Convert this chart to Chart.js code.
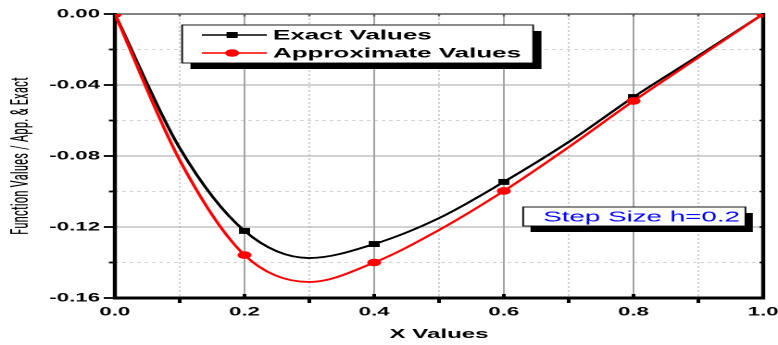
<!DOCTYPE html>
<html><head><meta charset="utf-8">
<script src="https://cdn.jsdelivr.net/npm/chart.js@4/dist/chart.umd.min.js"></script>
<style>html,body{margin:0;padding:0;background:#fff;overflow:hidden}canvas{display:block}</style>
</head><body>
<canvas id="c" width="420" height="345" style="width:778px;height:345px"></canvas>
<script>
// ---- data ----
const xValues      = [0, 0.1, 0.2, 0.3, 0.4, 0.5, 0.6, 0.7, 0.8, 0.9, 1.0];
const exactValues  = [0, -0.0755, -0.1222, -0.1375, -0.1296, -0.1150, -0.0946, -0.0721, -0.0468, -0.0236, 0];
const approxValues = [0, -0.0823, -0.1358, -0.1510, -0.1400, -0.1217, -0.0997, -0.0750, -0.0490, -0.0245, 0];
const markerX      = [0, 0.2, 0.4, 0.6, 0.8, 1.0];
const xTickLabels  = ['0.0', '0.2', '0.4', '0.6', '0.8', '1.0'];
const yTickLabels  = ['0.00', '-0.04', '-0.08', '-0.12', '-0.16'];
const seriesNames  = ['Exact Values', 'Approximate Values'];
const xTitle       = 'X Values';
const yTitle       = 'Function Values / App. & Exact';
const noteText     = 'Step Size h=0.2';

const FAM = '"Liberation Sans", Arial, Helvetica, sans-serif';
const NARROW = '"Roboto Condensed", Roboto, "Liberation Sans", sans-serif';
Chart.defaults.font.family = FAM;
Chart.defaults.color = '#000';

const isMarker = v => markerX.some(m => Math.abs(m - v) < 1e-6);
const pts = arr => xValues.map((x, i) => ({x, y: arr[i]}));
const findLabel = (labels, v) => labels.find(l => Math.abs(parseFloat(l) - v) < 1e-6);

function seg(ctx, x1, y1, x2, y2) { ctx.beginPath(); ctx.moveTo(x1, y1); ctx.lineTo(x2, y2); ctx.stroke(); }

const framePlugin = {
  id: 'frame',
  beforeDatasetsDraw(chart) {
    const {ctx, chartArea: a, scales: {x, y}} = chart;
    ctx.save();
    ctx.strokeStyle = '#c9c9c9'; ctx.lineWidth = 0.8; ctx.setLineDash([2, 2]);
    for (let i = 1; i < 10; i += 2) { const px = x.getPixelForValue(i / 10); seg(ctx, px, a.top, px, a.bottom); }
    for (let j = 1; j < 8; j += 2) { const py = y.getPixelForValue(-j * 0.02); seg(ctx, a.left, py, a.right, py); }
    ctx.setLineDash([]);
    ctx.strokeStyle = '#a4a4a4'; ctx.lineWidth = 1;
    for (let i = 2; i < 10; i += 2) { const px = x.getPixelForValue(i / 10); seg(ctx, px, a.top, px, a.bottom); }
    for (let j = 2; j < 8; j += 2) { const py = y.getPixelForValue(-j * 0.02); seg(ctx, a.left, py, a.right, py); }
    ctx.strokeStyle = '#5a5a5a'; ctx.lineWidth = 1.5;
    seg(ctx, a.left, a.top, a.right, a.top);
    ctx.lineWidth = 1.2;
    for (let i = 1; i < 10; i++) { const px = x.getPixelForValue(i / 10); seg(ctx, px, a.top, px, a.top + 2.5); }
    ctx.strokeStyle = '#000';
    ctx.lineWidth = 2.2; seg(ctx, a.left, a.top - 1, a.left, a.bottom + 1.5);
    ctx.lineWidth = 2.2; seg(ctx, a.right, a.top - 1, a.right, a.bottom + 1.5);
    ctx.lineWidth = 3; seg(ctx, a.left - 1, a.bottom, a.right + 1, a.bottom);
    ctx.lineWidth = 1.8;
    for (let j = 0; j <= 8; j++) {
      const py = y.getPixelForValue(-j * 0.02);
      const len = j % 2 === 0 ? 6 : 3.2;
      seg(ctx, a.left - len, py, a.left, py);
    }
    ctx.lineWidth = 1.5;
    for (let j = 1; j < 8; j++) { const py = y.getPixelForValue(-j * 0.02); seg(ctx, a.right - 2, py, a.right, py); }
    ctx.lineWidth = 2;
    for (let i = 1; i < 10; i++) {
      const px = x.getPixelForValue(i / 10);
      if (i % 2 === 1) seg(ctx, px, a.bottom, px, a.bottom + 5);
      else seg(ctx, px, a.bottom, px, a.bottom - 4);
    }
    ctx.restore();
  },
  afterDraw(chart) {
    const ctx = chart.ctx;
    ctx.save();
    function shadowBox(x, y, w, h, dx, dy) {
      ctx.fillStyle = '#000'; ctx.fillRect(x + dx, y + dy, w, h);
      ctx.fillStyle = '#fff'; ctx.fillRect(x, y, w, h);
      ctx.strokeStyle = '#000'; ctx.lineWidth = 0.9; ctx.strokeRect(x, y, w, h);
    }
    shadowBox(98.3, 25, 189.5, 38, 4.5, 6);
    const rows = [
      {y: 35, color: '#000', style: 'rect'},
      {y: 53, color: '#ff0000', style: 'circle'}
    ];
    rows.forEach((r, i) => {
      ctx.strokeStyle = r.color; ctx.lineWidth = 1.6;
      seg(ctx, 109, r.y, 144, r.y);
      ctx.fillStyle = r.color;
      if (r.style === 'rect') ctx.fillRect(125.3 - 3, r.y - 3, 6, 6);
      else { ctx.beginPath(); ctx.arc(125.3, r.y, 3.8, 0, Math.PI * 2); ctx.fill(); }
      ctx.fillStyle = '#000';
      ctx.font = 'bold 14px ' + FAM;
      ctx.textBaseline = 'middle'; ctx.textAlign = 'left';
      ctx.fillText(seriesNames[i], 147.4, r.y + 0.5);
    });
    shadowBox(282.4, 207, 120, 19, 4, 6);
    ctx.fillStyle = '#0000ff';
    ctx.font = '15px ' + FAM;
    ctx.textBaseline = 'middle'; ctx.textAlign = 'left';
    ctx.fillText(noteText, 293.2, 217.5);
    ctx.restore();
  }
};

new Chart(document.getElementById('c'), {
  type: 'line',
  data: {
    datasets: [
      {
        label: seriesNames[1], data: pts(approxValues), order: 0,
        borderColor: '#ff0000', backgroundColor: '#ff0000', borderWidth: 1.8,
        cubicInterpolationMode: 'monotone', pointStyle: 'circle',
        pointRadius: c => isMarker(c.raw.x) ? 3.8 : 0, pointBorderWidth: 0
      },
      {
        label: seriesNames[0], data: pts(exactValues), order: 1,
        borderColor: '#000', backgroundColor: '#000', borderWidth: 1.8,
        cubicInterpolationMode: 'monotone', pointStyle: 'rect',
        pointRadius: c => isMarker(c.raw.x) ? 4.2 : 0, pointBorderWidth: 0
      }
    ]
  },
  options: {
    responsive: false, animation: false, devicePixelRatio: 2,
    layout: {padding: {top: 14, right: 8, left: 0, bottom: 0}},
    plugins: {legend: {display: false}, tooltip: {enabled: false}},
    scales: {
      x: {
        type: 'linear', min: 0, max: 1,
        grid: {display: false, drawTicks: false, tickLength: 0}, border: {display: false},
        ticks: {stepSize: 0.1, autoSkip: false, maxRotation: 0, padding: 7, color: '#000',
          font: {family: FAM, size: 12, weight: 'bold'},
          callback: v => findLabel(xTickLabels, v) || ''},
        title: {display: true, text: xTitle, color: '#000', font: {family: FAM, size: 13, weight: 'bold'}, padding: {top: 0, bottom: 3}},
        afterFit(s) { s.height = 47; s.paddingLeft = 0; s.paddingRight = 0; }
      },
      y: {
        type: 'linear', min: -0.16, max: 0,
        grid: {display: false, drawTicks: false, tickLength: 0}, border: {display: false},
        ticks: {stepSize: 0.02, autoSkip: false, padding: 8, color: '#000',
          font: {family: FAM, size: 12, weight: 'bold'},
          callback: v => findLabel(yTickLabels, v) || ''},
        title: {display: true, text: yTitle, color: '#000', font: {family: NARROW, size: 13, weight: 'normal'}, padding: {top: 4, bottom: 0}},
        afterFit(s) { s.width = 62; s.paddingTop = 0; s.paddingBottom = 0; }
      }
    }
  },
  plugins: [framePlugin]
});
</script>
</body></html>
